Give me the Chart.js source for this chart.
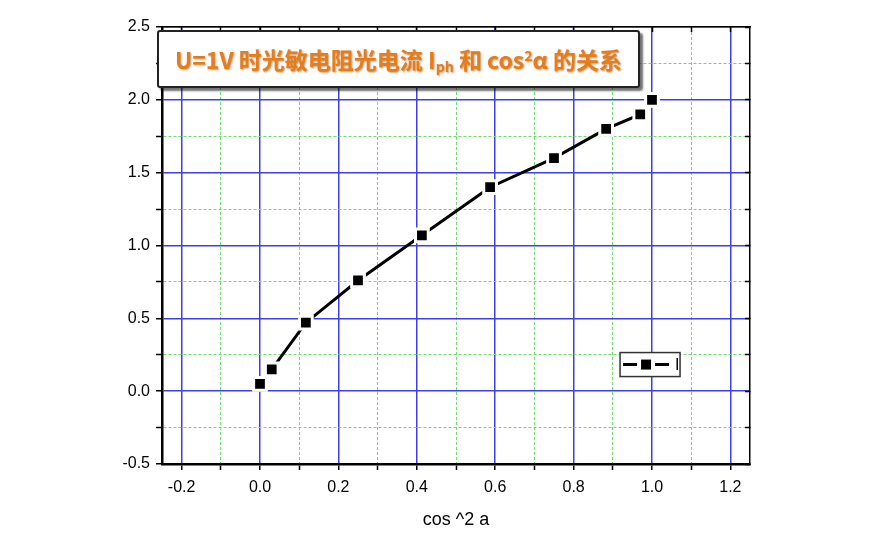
<!DOCTYPE html>
<html>
<head>
<meta charset="utf-8">
<script src="https://cdn.jsdelivr.net/npm/chart.js@4.4.0/dist/chart.umd.min.js"></script>
<style>
    html, body { margin: 0; padding: 0; background: #fff; }
    #wrap { position: relative; width: 882px; height: 540px; }
    #title {
        position: absolute; left: 157px; top: 30px; width: 479px; height: 54px;
        background: #fff; border: 2px solid #222; border-radius: 3px;
        box-shadow: 3px 3px 2px rgba(0,0,0,0.55);
        font-family: "Noto Sans CJK SC", "Noto Sans", sans-serif; font-weight: bold;
        font-size: 23px; color: #e47d1c; line-height: 54px; text-align: center;
        text-shadow: 1px 1px 2px rgba(140,70,0,0.55); white-space: nowrap;
    }
    #title sub { font-size: 14px; vertical-align: -3px; line-height: 0; }
    #title sup { font-size: 14px; vertical-align: 8px; line-height: 0; }
</style>
</head>
<body>
<div id="wrap">
    <canvas id="chart" width="882" height="540"></canvas>
    <div id="title">U=1V 时光敏电阻光电流 I<sub>ph</sub> 和 cos<sup>2</sup>α 的关系</div>
</div>
<script>
// cos^2 a values and measured current I
var cos2 = [0, 0.03, 0.117, 0.25, 0.413, 0.587, 0.75, 0.883, 0.97, 1.0];
var current = [0.05, 0.15, 0.47, 0.76, 1.07, 1.40, 1.60, 1.80, 1.90, 2.00];

var xMajor = [-0.2, 0.0, 0.2, 0.4, 0.6, 0.8, 1.0, 1.2];
var xMinor = [-0.1, 0.1, 0.3, 0.5, 0.7, 0.9, 1.1];
var yMajor = [-0.5, 0.0, 0.5, 1.0, 1.5, 2.0, 2.5];
var yMinor = [-0.25, 0.25, 0.75, 1.25, 1.75, 2.25];

var xLabel = "cos ^2 a";
var legendLabel = "I";

function isMajor(list, v) {
    for (var i = 0; i < list.length; i++) {
        if (Math.abs(list[i] - v) < 1e-6) return true;
    }
    return false;
}

function setTicks(major, minor) {
    return function (scale) {
        scale.ticks = major.concat(minor).sort(function (a, b) { return a - b; })
            .map(function (v) { return { value: v }; });
    };
}

var tickFont = { family: "Liberation Sans, Arial, sans-serif", size: 16 };

function mainGrid(major) {
    return {
        color: function (c) {
            if (!c.tick) return "#000";
            return isMajor(major, c.tick.value) ? "#3f3fe6" : "#6fdc6f";
        },
        lineWidth: function (c) {
            return c.tick && isMajor(major, c.tick.value) ? 1.5 : 1;
        },
        tickColor: "#000",
        tickWidth: 1.5,
        tickLength: 6
    };
}

function mainBorder(major) {
    return {
        color: "#000",
        width: 2.5,
        dash: function (c) {
            if (!c.tick || isMajor(major, c.tick.value)) return [];
            return [3, 2];
        }
    };
}

// legend box drawn inside the plot area, Origin style
var innerLegend = {
    id: "innerLegend",
    afterDraw: function (chart) {
        var ctx = chart.ctx, a = chart.chartArea;
        var bx = a.left + (a.right - a.left) * 0.779;
        var by = a.top + (a.bottom - a.top) * 0.745;
        var bw = 60, bh = 24;
        ctx.save();
        ctx.fillStyle = "#fff";
        ctx.fillRect(bx, by, bw, bh);
        ctx.strokeStyle = "#333";
        ctx.lineWidth = 1.5;
        ctx.strokeRect(bx, by, bw, bh);
        var cy = by + bh / 2;
        ctx.strokeStyle = "#000";
        ctx.lineWidth = 3;
        ctx.beginPath();
        ctx.moveTo(bx + 3, cy); ctx.lineTo(bx + 17, cy);
        ctx.moveTo(bx + 35, cy); ctx.lineTo(bx + 49, cy);
        ctx.stroke();
        ctx.fillStyle = "#000";
        ctx.fillRect(bx + 21, cy - 5, 10, 10);
        ctx.font = "16px Liberation Sans, Arial, sans-serif";
        ctx.textBaseline = "middle";
        ctx.fillText(legendLabel, bx + 55, cy + 1);
        ctx.restore();
    }
};

var ctx = document.getElementById("chart").getContext("2d");
new Chart(ctx, {
    type: "line",
    data: {
        datasets: [{
            label: legendLabel,
            data: cos2.map(function (x, i) { return { x: x, y: current[i] }; }),
            borderColor: "#000",
            borderWidth: 3,
            pointStyle: "rect",
            pointRadius: 9,
            pointBackgroundColor: "#000",
            pointBorderColor: "#fff",
            pointBorderWidth: 3,
            tension: 0
        }]
    },
    options: {
        responsive: false,
        animation: false,
        layout: { padding: { left: 100, right: 132, top: 27, bottom: 9 } },
        plugins: { legend: { display: false }, tooltip: { enabled: false } },
        scales: {
            x: {
                type: "linear", position: "bottom", min: -0.25, max: 1.25,
                afterBuildTicks: setTicks(xMajor, xMinor),
                afterFit: function (s) { s.height = 67; },
                grid: mainGrid(xMajor),
                border: mainBorder(xMajor),
                ticks: {
                    autoSkip: false, maxRotation: 0, color: "#000", font: tickFont, padding: 8,
                    callback: function (v) { return isMajor(xMajor, v) ? v.toFixed(1) : ""; }
                },
                title: {
                    display: true, text: xLabel, color: "#000",
                    font: { family: "Liberation Sans, Arial, sans-serif", size: 18 },
                    padding: { top: 6, bottom: 0 }
                }
            },
            y: {
                type: "linear", position: "left", min: -0.5, max: 2.5,
                afterBuildTicks: setTicks(yMajor, yMinor),
                afterFit: function (s) { s.width = 62; },
                grid: mainGrid(yMajor),
                border: mainBorder(yMajor),
                ticks: {
                    autoSkip: false, color: "#000", font: tickFont, padding: 6,
                    callback: function (v) { return isMajor(yMajor, v) ? v.toFixed(1) : ""; }
                }
            },
            x2: {
                type: "linear", position: "top", min: -0.25, max: 1.25,
                afterBuildTicks: setTicks(xMajor, xMinor),
                afterFit: function (s) { s.height = 0; },
                grid: { drawOnChartArea: false, tickLength: -5, tickColor: "#000", tickWidth: 1.5 },
                border: { color: "#000", width: 1.5 },
                ticks: { display: false }
            },
            y2: {
                type: "linear", position: "right", min: -0.5, max: 2.5,
                afterBuildTicks: setTicks(yMajor, yMinor),
                afterFit: function (s) { s.width = 0; },
                grid: { drawOnChartArea: false, tickLength: -5, tickColor: "#000", tickWidth: 1.5 },
                border: { color: "#000", width: 1.5 },
                ticks: { display: false }
            }
        }
    },
    plugins: [innerLegend]
});
</script>
</body>
</html>
